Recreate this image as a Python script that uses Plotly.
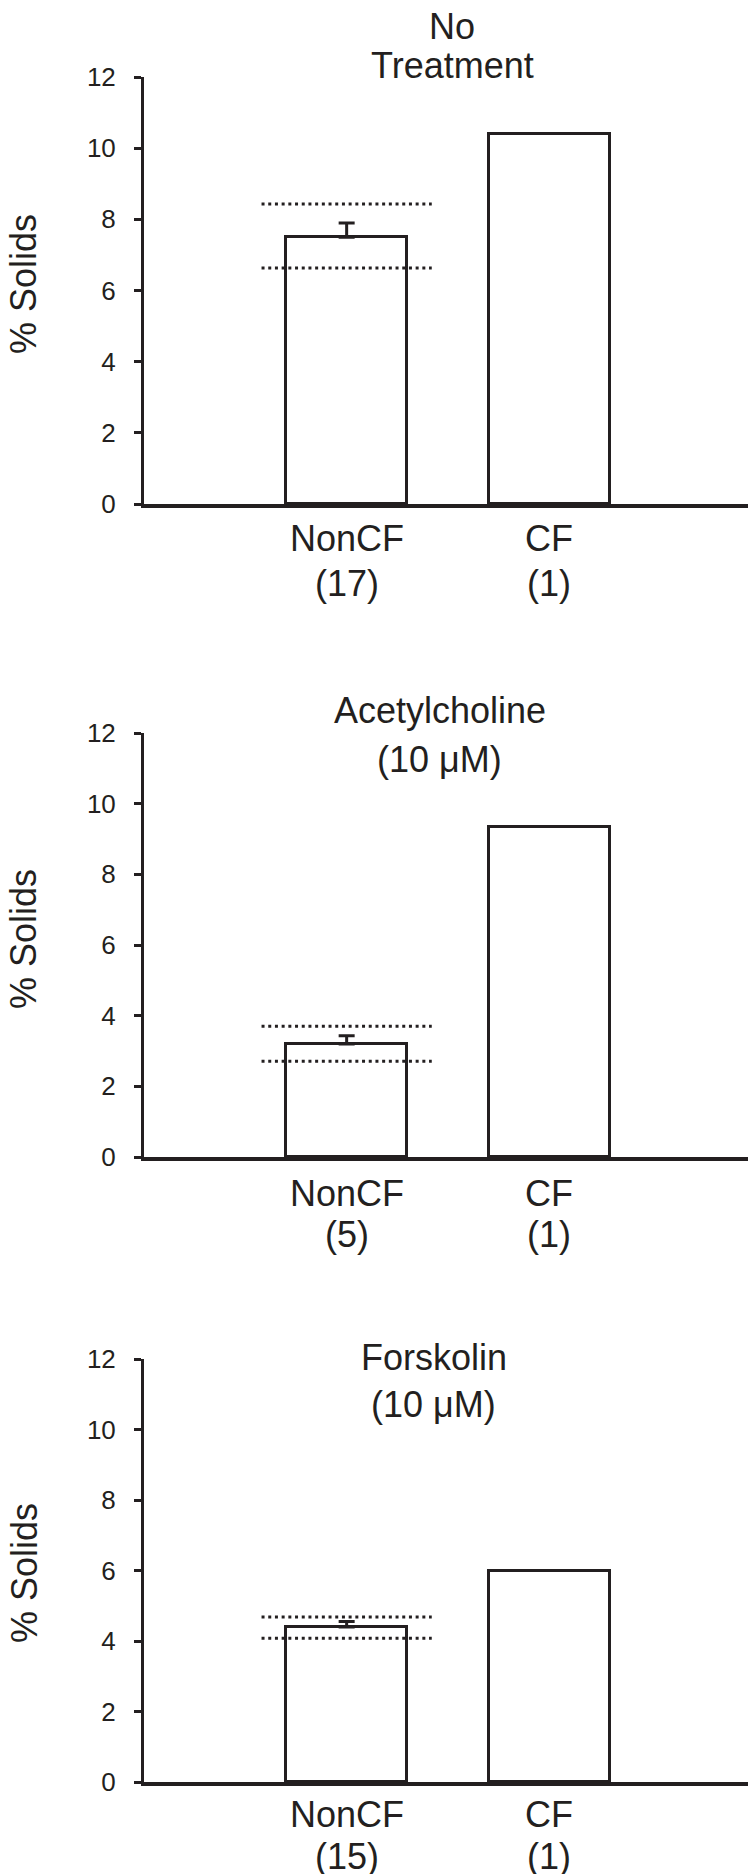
import plotly.graph_objects as go
from plotly.subplots import make_subplots

# data
groups = ["NonCF", "CF"]
panel_titles = [["No", "Treatment"], ["Acetylcholine", "(10 \u03bcM)"], ["Forskolin", "(10 \u03bcM)"]]
n_labels = [["(17)", "(1)"], ["(5)", "(1)"], ["(15)", "(1)"]]

solids_noncf = [7.5, 3.2, 4.4]
solids_cf = [10.4, 9.35, 6.0]
sem_noncf = [0.4, 0.23, 0.15]
band_upper = [8.43, 3.70, 4.68]
band_lower = [6.63, 2.71, 4.08]

y_ticks = [0, 2, 4, 6, 8, 10, 12]

# layout, in page pixels (the page body adds an 8px margin)
OFF = 8
W, H = 756 - OFF, 1874 - OFF
INK = "#231f20"
FONT = "Liberation Sans, Arial, Helvetica, sans-serif"
left = 144 - OFF
panel_px = [(77, 504), (733, 1157), (1359, 1782)]   # (top, bottom) of each plot area
title_x = [1.52, 1.46, 1.43]
title_px = [(26, 66), (710, 759), (1357, 1404)]
label_px = [(539, 583), (1193, 1234), (1814, 1856)]
ylab_px = [284, 939, 1573]


def py(p):
    return 1 - (p - OFF) / H


fig = make_subplots(rows=3, cols=1)
xpos = [1, 2]

for i in range(3):
    r = i + 1
    xref = "x" if r == 1 else "x%d" % r
    # NonCF bar with SEM (upper only)
    fig.add_trace(go.Bar(
        x=[xpos[0]], y=[solids_noncf[i]], width=0.6,
        marker=dict(color="white", line=dict(color=INK, width=3)),
        error_y=dict(type="data", symmetric=False, array=[sem_noncf[i]],
                     arrayminus=[0], color=INK, thickness=3, width=8),
        showlegend=False), row=r, col=1)
    # CF bar
    fig.add_trace(go.Bar(
        x=[xpos[1]], y=[solids_cf[i]], width=0.6,
        marker=dict(color="white", line=dict(color=INK, width=3)),
        showlegend=False), row=r, col=1)
    # dotted normal range lines
    for v in (band_upper[i], band_lower[i]):
        fig.add_trace(go.Scatter(
            x=[0.58, 1.42], y=[v, v], mode="lines",
            line=dict(color=INK, width=3, dash="3px,3.7px"),
            showlegend=False), row=r, col=1)

    top, bot = panel_px[i]
    xa = "xaxis" if i == 0 else "xaxis%d" % r
    ya = "yaxis" if i == 0 else "yaxis%d" % r
    fig.layout[xa].update(
        domain=[0, 1], range=[0, 3.02], showline=True, linewidth=3.5, linecolor=INK,
        showgrid=False, zeroline=False, ticks="", showticklabels=False, automargin=False)
    fig.layout[ya].update(
        domain=[py(bot), py(top)], range=[0, 12], showline=True, linewidth=3, linecolor=INK,
        showgrid=False, zeroline=False, ticks="outside", ticklen=7, tickwidth=2.5,
        tickcolor=INK, tickvals=y_ticks, automargin=False,
        tickfont=dict(family=FONT, size=26, color=INK), ticklabelstandoff=13)

    # panel title, one annotation per line
    for line, ty in zip(panel_titles[i], title_px[i]):
        fig.add_annotation(text=line, x=title_x[i], y=py(ty), xref=xref, yref="paper",
                           showarrow=False, xanchor="center", yanchor="middle",
                           font=dict(family=FONT, size=36, color=INK))
    # group labels under the bars
    for k in range(2):
        for line, ly in zip([groups[k], n_labels[i][k]], label_px[i]):
            fig.add_annotation(text=line, x=xpos[k], y=py(ly), xref=xref, yref="paper",
                               showarrow=False, xanchor="center", yanchor="middle",
                               font=dict(family=FONT, size=36, color=INK))
    fig.add_annotation(text="% Solids", x=(24 - OFF - left) / (W - left), y=py(ylab_px[i]),
                       xref="paper", yref="paper", showarrow=False, textangle=-90,
                       xanchor="center", yanchor="middle",
                       font=dict(family=FONT, size=36, color=INK))

fig.update_layout(width=W, height=H, margin=dict(l=left, r=0, t=0, b=0, autoexpand=False),
                  plot_bgcolor="white", paper_bgcolor="white", bargap=0)

fig.write_html("out.html")
